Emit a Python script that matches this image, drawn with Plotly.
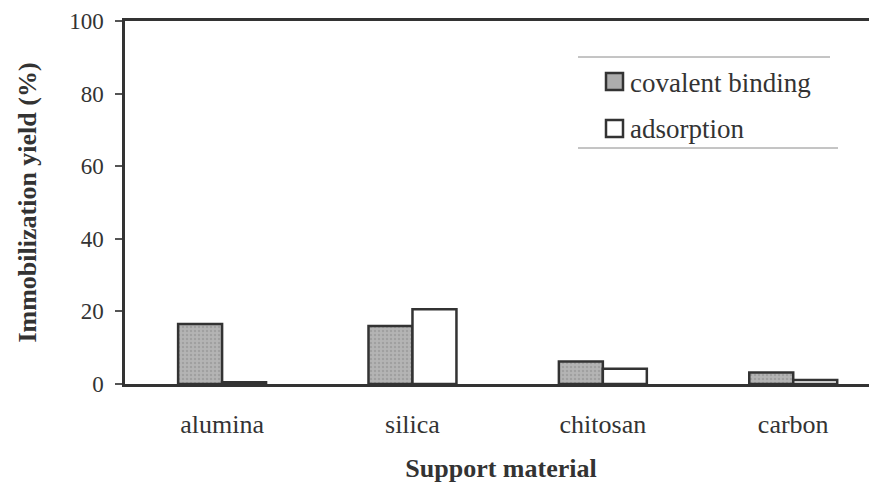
import plotly.graph_objects as go

categories = ["alumina", "silica", "chitosan", "carbon"]
covalent_binding = [16.5, 16.0, 6.2, 3.2]
adsorption = [0.5, 20.6, 4.2, 1.1]
y_ticks = [0, 20, 40, 60, 80, 100]

FONT = "Liberation Serif, Times New Roman, serif"
INK = "#333333"

fig = go.Figure()
fig.add_trace(go.Bar(
    x=categories, y=covalent_binding, name="covalent binding",
    marker=dict(color="#adadad", line=dict(color=INK, width=2.5),
                pattern=dict(shape=".", fgcolor="#8c8c8c", bgcolor="#b4b4b4", size=4, solidity=0.3)),
    showlegend=False,
))
fig.add_trace(go.Bar(
    x=categories, y=adsorption, name="adsorption",
    marker=dict(color="#ffffff", line=dict(color=INK, width=2.5)),
    showlegend=False,
))

# manual legend (paper coordinates, from page pixels)
def px_x(p):
    return (p - 125) / 752.0

def px_y(p):
    return (384 - p) / 363.0

shapes = [
    dict(type="line", xref="paper", yref="paper", x0=px_x(578), x1=px_x(830), y0=px_y(57), y1=px_y(57),
         line=dict(color="#8a8a8a", width=1)),
    dict(type="line", xref="paper", yref="paper", x0=px_x(578), x1=px_x(838), y0=px_y(148), y1=px_y(148),
         line=dict(color="#8a8a8a", width=1)),
    dict(type="rect", xref="paper", yref="paper", x0=px_x(606), x1=px_x(623), y0=px_y(90), y1=px_y(73),
         fillcolor="#adadad", line=dict(color=INK, width=2.5)),
    dict(type="rect", xref="paper", yref="paper", x0=px_x(606), x1=px_x(623), y0=px_y(137), y1=px_y(120),
         fillcolor="#ffffff", line=dict(color=INK, width=2.5)),
]
annotations = [
    dict(xref="paper", yref="paper", x=px_x(628), y=px_y(83), text="covalent binding", showarrow=False,
         xanchor="left", yanchor="middle", font=dict(family=FONT, size=27, color=INK)),
    dict(xref="paper", yref="paper", x=px_x(628), y=px_y(129), text="adsorption", showarrow=False,
         xanchor="left", yanchor="middle", font=dict(family=FONT, size=27, color=INK)),
]

fig.update_layout(
    width=869, height=475,
    margin=dict(l=117, r=0, t=13, b=99),
    paper_bgcolor="white", plot_bgcolor="white",
    barmode="group", bargap=0.538, bargroupgap=0,
    font=dict(family=FONT, color=INK),
    shapes=shapes, annotations=annotations,
    xaxis=dict(
        type="category", range=[-0.51, 3.44],
        showline=True, linecolor=INK, linewidth=2.5, mirror=True,
        showgrid=False, ticks="", zeroline=False,
        tickfont=dict(family=FONT, size=26, color=INK),
        ticklabelstandoff=15,
        title=dict(text="<b>Support material</b>", font=dict(family=FONT, size=26, color=INK), standoff=25),
    ),
    yaxis=dict(
        range=[0, 100], tickvals=y_ticks,
        showline=True, linecolor=INK, linewidth=2.5,
        showgrid=False, zeroline=False,
        ticks="outside", ticklen=7, tickwidth=1.5, tickcolor="#555555",
        tickfont=dict(family=FONT, size=23, color=INK),
        ticklabelstandoff=7,
        title=dict(text="<b>Immobilization yield (%)</b>", font=dict(family=FONT, size=26, color=INK), standoff=26),
    ),
)

fig.write_html("out.html")
